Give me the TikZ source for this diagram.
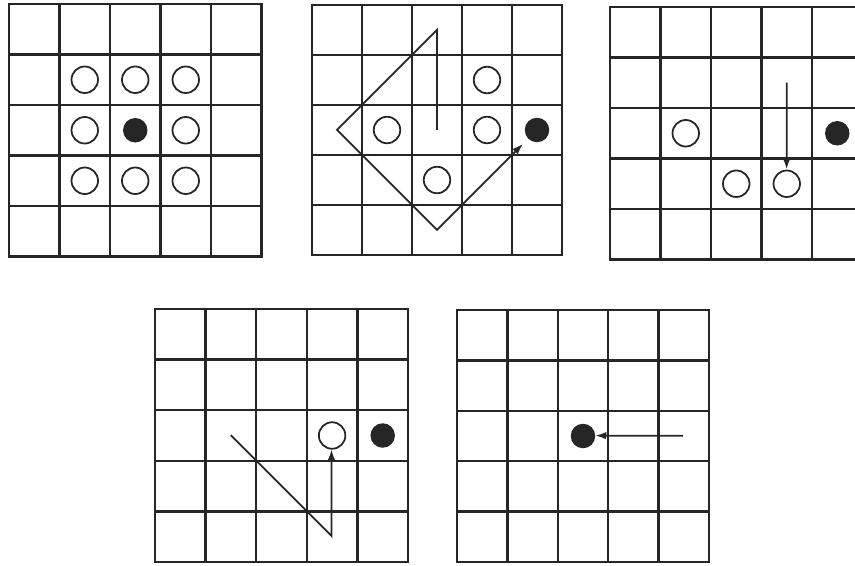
\documentclass[tikz,border=0pt]{standalone}
\usetikzlibrary{arrows.meta}
\begin{document}
\begin{tikzpicture}[x=0.02cm,y=-0.02cm,
  gridline/.style={line width=1.3pt, line cap=rect, draw=black!85},
  open/.style={circle, draw=black!85, line width=1.0pt, minimum size=0.53cm, inner sep=0pt, fill=white},
  full/.style={circle, fill=black!85, minimum size=0.49cm, inner sep=0pt},
  move/.style={line width=1.0pt, draw=black!85, line join=miter},
  tip/.style={-{Latex[length=2.2mm,width=1.5mm]}}]
\useasboundingbox (0,0) rectangle (855,565);
\clip (0,0) rectangle (855,565);
% ---------- grid 1
\begin{scope}[shift={(9,4)}, scale=50.5]
  \foreach \i in {0,...,5} {\draw[gridline] (\i,0) -- (\i,5); \draw[gridline] (0,\i) -- (5,\i);}
  \node[full] (af) at (2.5,2.5) {};
  \node[open] (a1) at (1.5,1.5) {};
  \node[open] (a2) at (2.5,1.5) {};
  \node[open] (a3) at (3.5,1.5) {};
  \node[open] (a4) at (1.5,2.5) {};
  \node[open] (a5) at (3.5,2.5) {};
  \node[open] (a6) at (1.5,3.5) {};
  \node[open] (a7) at (2.5,3.5) {};
  \node[open] (a8) at (3.5,3.5) {};
\end{scope}
% ---------- grid 2
\begin{scope}[shift={(312,5)}, scale=50]
  \foreach \i in {0,...,5} {\draw[gridline] (\i,0) -- (\i,5); \draw[gridline] (0,\i) -- (5,\i);}
  \node[open] (b1) at (1.5,2.5) {};
  \node[open] (b2) at (3.5,1.5) {};
  \node[open] (b3) at (3.5,2.5) {};
  \node[open] (b4) at (2.5,3.5) {};
  \node[full] (bf) at (4.5,2.5) {};
  \coordinate (bs) at (2.5,2.5);
  \coordinate (bt) at (2.5,0.5);
  \coordinate (bl) at (0.5,2.5);
  \coordinate (bb) at (2.5,4.5);
  \draw[move,tip,shorten >=1.4mm] (bs) -- (bt) -- (bl) -- (bb) -- (bf);
\end{scope}
% ---------- grid 3
\begin{scope}[shift={(610,7)}, scale=50.5]
  \foreach \i in {0,...,5} {\draw[gridline] (\i,0) -- (\i,5); \draw[gridline] (0,\i) -- (5,\i);}
  \node[open] (c1) at (1.5,2.5) {};
  \node[open] (c2) at (2.5,3.5) {};
  \node[open] (c3) at (3.5,3.5) {};
  \node[full] (cf) at (4.5,2.5) {};
  \coordinate (cs) at (3.5,1.5);
  \draw[move,tip] (cs) -- (c3);
\end{scope}
% ---------- grid 4
\begin{scope}[shift={(155,309)}, scale=50.6]
  \foreach \i in {0,...,5} {\draw[gridline] (\i,0) -- (\i,5); \draw[gridline] (0,\i) -- (5,\i);}
  \node[open] (d1) at (3.5,2.5) {};
  \node[full] (df) at (4.5,2.5) {};
  \coordinate (ds) at (1.5,2.5);
  \coordinate (db) at (3.5,4.5);
  \draw[move,tip] (ds) -- (db) -- (d1);
\end{scope}
% ---------- grid 5
\begin{scope}[shift={(457,310)}, scale=50.4]
  \foreach \i in {0,...,5} {\draw[gridline] (\i,0) -- (\i,5); \draw[gridline] (0,\i) -- (5,\i);}
  \node[full] (ef) at (2.5,2.5) {};
  \coordinate (es) at (4.5,2.5);
  \draw[move,tip] (es) -- (ef);
\end{scope}
\end{tikzpicture}
\end{document}
